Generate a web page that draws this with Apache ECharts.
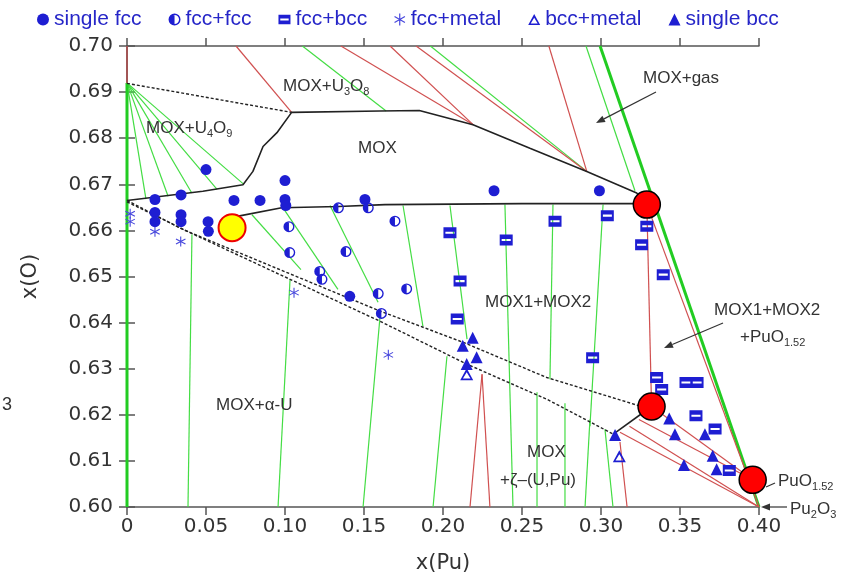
<!DOCTYPE html>
<html><head><meta charset="utf-8">
<script src="https://cdn.jsdelivr.net/npm/echarts@6/dist/echarts.min.js"></script>
<style>html,body{margin:0;padding:0;background:#fff}#c{width:867px;height:580px}</style>
</head><body><div id="c"></div>
<script>
// ---------- tick labels ----------
const xTickLabels = ['0','0.05','0.10','0.15','0.20','0.25','0.30','0.35','0.40'];
const yTickLabels = ['0.60','0.61','0.62','0.63','0.64','0.65','0.66','0.67','0.68','0.69','0.70'];

// ---------- data points [x(Pu), x(O)] ----------
const singleFcc = [[0.05,0.6732],[0.0177,0.6667],[0.0342,0.6677],[0.0677,0.6665],[0.0842,0.6665],
  [0.100,0.6708],[0.100,0.6667],[0.1005,0.6654],[0.1506,0.6667],[0.0177,0.6639],[0.0177,0.6619],
  [0.0342,0.6634],[0.0342,0.6619],[0.0513,0.6619],[0.0515,0.6598],[0.2323,0.6686],[0.299,0.6686],[0.141,0.6457]];
const fccFcc = [[0.1025,0.6608],[0.103,0.6552],[0.122,0.6511],[0.1234,0.6494],[0.1386,0.6554],
  [0.1338,0.6649],[0.1527,0.6649],[0.1696,0.662],[0.159,0.6463],[0.161,0.642],[0.177,0.6473]];
const fccBcc = [[0.2044,0.6595],[0.240,0.6579],[0.2709,0.662],[0.304,0.6632],[0.329,0.6609],
  [0.3257,0.6569],[0.3394,0.6504],[0.2108,0.649],[0.209,0.6408],[0.2947,0.6324],[0.3352,0.6281],
  [0.3384,0.6255],[0.3538,0.627],[0.3608,0.627],[0.3601,0.6198],[0.3722,0.6169],[0.3812,0.6079]];
const fccMetal = [[0.0177,0.6597],[0.034,0.6576],[0.1057,0.6465],[0.1654,0.633],[0.002,0.6636],[0.002,0.6619]];
const bccMetal = [[0.215,0.6288],[0.3116,0.611]];
const singleBcc = [[0.2188,0.6367],[0.2125,0.635],[0.2213,0.6325],[0.215,0.631],[0.3089,0.6156],
  [0.3432,0.6192],[0.3468,0.6158],[0.3658,0.6158],[0.3707,0.6111],[0.3525,0.6091],[0.3732,0.6082]];
const redPoints = [[0.329,0.6656],[0.332,0.6218],[0.396,0.6059]];
const yellowPoints = [[0.0665,0.6606]];

// ---------- phase boundaries & tie lines ----------
const boundarySolid = [
  [[0,0.6665],[0.048,0.6685],[0.0734,0.6699],[0.0797,0.6728],[0.0861,0.6782],[0.0949,0.6812],[0.1042,0.6856],
   [0.16,0.6859],[0.185,0.686],[0.219,0.6829],[0.255,0.6778],[0.291,0.6728],[0.3226,0.6681],[0.329,0.6656]],
  [[0.0665,0.6606],[0.0705,0.6631],[0.0979,0.6649],[0.1338,0.6652],[0.1633,0.6656],[0.25,0.6658],[0.3226,0.6658],[0.329,0.6656]],
  [[0.3078,0.6158],[0.332,0.6218]]
];
const boundaryDashed = [
  [[0,0.6665],[0.0354,0.6602],[0.1601,0.6425],[0.2129,0.6357],[0.2656,0.6281],[0.3247,0.6219],[0.332,0.6218]],
  [[0,0.6662],[0.0399,0.6595],[0.1601,0.6403],[0.215,0.631],[0.2656,0.6234],[0.3078,0.6158]],
  [[0,0.6919],[0.1042,0.6856]]
];
const greenTies = [
  [[0,0.692],[0.012,0.6668]],[[0,0.692],[0.026,0.6674]],[[0,0.692],[0.041,0.6681]],[[0,0.692],[0.057,0.6689]],[[0,0.692],[0.0736,0.6701]],
  [[0.111,0.70],[0.164,0.6859]],
  [[0.192,0.70],[0.291,0.6728]],
  [[0.2905,0.70],[0.3215,0.6686]],
  [[0.0791,0.6634],[0.1101,0.6515]],[[0.0981,0.6652],[0.1335,0.6472]],[[0.1285,0.6654],[0.1589,0.6444]],
  [[0.1747,0.6654],[0.1873,0.6392]],[[0.2044,0.6654],[0.2152,0.6364]],[[0.2392,0.6656],[0.2443,0.60]],
  [[0.2696,0.6656],[0.2677,0.6277]],[[0.3013,0.6656],[0.293,0.6175]],
  [[0.0411,0.6591],[0.0386,0.60]],[[0.1032,0.6494],[0.0956,0.60]],[[0.1601,0.6411],[0.1494,0.60]],
  [[0.2025,0.6327],[0.1937,0.60]],[[0.2595,0.6249],[0.2595,0.60]],[[0.2772,0.6225],[0.2772,0.60]],
  [[0.293,0.619],[0.2899,0.60]],[[0.3025,0.6169],[0.3076,0.60]]
];
const greenThick = [[[0,0.692],[0,0.60]],[[0.2994,0.70],[0.40,0.60]]];
const redTies = [
  [[0,0.70],[0,0.6919]],[[0.069,0.70],[0.1042,0.6856]],[[0.1354,0.70],[0.2192,0.6829]],[[0.1665,0.70],[0.2192,0.6829]],
  [[0.183,0.70],[0.291,0.6728]],[[0.267,0.70],[0.291,0.6728]],
  [[0.329,0.6656],[0.40,0.60]],[[0.329,0.6656],[0.332,0.6218]],[[0.332,0.6218],[0.396,0.6059]],
  [[0.312,0.6162],[0.40,0.60]],[[0.318,0.6175],[0.40,0.60]],[[0.324,0.619],[0.396,0.6059]],
  [[0.2247,0.6288],[0.2171,0.60]],[[0.2247,0.6288],[0.2297,0.60]],[[0.312,0.6141],[0.3165,0.60]]
];

// ---------- symbols ----------
const BLUE = '#1e1ed2';
const symHalf = 'path://M0,10A10,10 0 1,1 20,10A10,10 0 1,1 0,10Z M2.5,10A7.5,7.5 0 1,0 17.5,10A7.5,7.5 0 1,0 2.5,10Z M10,20A10,10 0 0,1 10,0Z';
const symBox = 'path://M0,0H20V16H0Z M3,6.5V9.5H17V6.5Z';
const symStar = 'path://M9,0H11V20H9Z M0.84,5.87L1.84,4.13L19.16,14.13L18.16,15.87Z M18.16,4.13L19.16,5.87L1.84,15.87L0.84,14.13Z';
const symTriOpen = 'path://M10,0L20,18L0,18Z M10,6L4.2,15.5L15.8,15.5Z';

function lines(segs, style, z) {
  return segs.map(s => ({type:'line', data:s, symbol:'none', silent:true, animation:false, z:z, lineStyle:style}));
}
function pts(name, data, symbol, size, color, z) {
  return {name:name, type:'scatter', data:data, symbol:symbol, symbolSize:size, z:z||5,
    itemStyle:{color:color||BLUE, opacity:1}};
}
const series = [].concat(
  lines(greenTies, {color:'#44dd44', width:1.2}, 2),
  lines(greenThick, {color:'#22cc22', width:3}, 2),
  lines(redTies, {color:'#d05050', width:1.2}, 2),
  lines(boundaryDashed, {color:'#222', width:1.4, type:[3,2]}, 3),
  lines(boundarySolid, {color:'#222', width:1.6}, 3),
  [
    pts('single fcc', singleFcc, 'circle', 11),
    pts('fcc+fcc', fccFcc, symHalf, 11),
    pts('fcc+bcc', fccBcc, symBox, [13,11]),
    pts('fcc+metal', fccMetal, symStar, 10, '#4848dd'),
    pts('bcc+metal', bccMetal, symTriOpen, [13,12]),
    pts('single bcc', singleBcc, 'triangle', 12),
    {type:'scatter', data:redPoints, symbol:'circle', symbolSize:27, silent:true,
     itemStyle:{color:'#ff0000', borderColor:'#000', borderWidth:1.5, opacity:1}, z:6},
    {type:'scatter', data:yellowPoints, symbol:'circle', symbolSize:27, silent:true,
     itemStyle:{color:'#ffff00', borderColor:'#ee0000', borderWidth:2, opacity:1}, z:6}
  ]
);

// ---------- annotations ----------
const FONT = 'Liberation Sans';
function rich(x, y, str, size, extra) {
  return Object.assign({type:'text', z:100, style:{
    x:x, y:y, text:str, align:'left', verticalAlign:'middle',
    rich:{
      m:{fontSize:size, lineHeight:size, fontFamily:FONT, fill:'#333', verticalAlign:'top'},
      s:{fontSize:Math.round(size*0.62), lineHeight:Math.round(size*0.62), fontFamily:FONT, fill:'#333', verticalAlign:'top', padding:[Math.round(size*0.5),0,0,0]}
    }
  }}, extra || {});
}
function arrow(x1, y1, x2, y2) {
  const dx = x2-x1, dy = y2-y1, L = Math.hypot(dx,dy), ux = dx/L, uy = dy/L;
  const bx = x2-9*ux, by = y2-9*uy, px = -uy*3.5, py = ux*3.5;
  return [
    {type:'line', z:100, shape:{x1:x1, y1:y1, x2:bx, y2:by}, style:{stroke:'#333', lineWidth:1.2}},
    {type:'polygon', z:100, shape:{points:[[x2,y2],[bx+px,by+py],[bx-px,by-py]]}, style:{fill:'#333'}}
  ];
}
const graphics = [
  {type:'rect', z:99, shape:{x:712, y:292, width:146, height:58}, style:{fill:'#fff'}},
  rich(283, 86, '{m|MOX+U}{s|3}{m|O}{s|8}', 17),
  rich(146, 128, '{m|MOX+U}{s|4}{m|O}{s|9}', 17),
  rich(358, 148, '{m|MOX}', 17),
  rich(643, 78, '{m|MOX+gas}', 17),
  rich(485, 302, '{m|MOX1+MOX2}', 17),
  rich(714, 310, '{m|MOX1+MOX2}', 17),
  rich(740, 337, '{m|+PuO}{s|1.52}', 17),
  rich(216, 405, '{m|MOX+α-U}', 17),
  rich(527, 452, '{m|MOX}', 17),
  rich(500, 480, '{m|+ζ–(U,Pu)}', 17),
  rich(778, 481, '{m|PuO}{s|1.52}', 17),
  rich(790, 509, '{m|Pu}{s|2}{m|O}{s|3}', 17),
  {type:'text', z:100, style:{x:2, y:405, text:'3', font:'18px ' + FONT, fill:'#333', verticalAlign:'middle'}},
  {type:'line', z:100, shape:{x1:766, y1:487, x2:775, y2:483}, style:{stroke:'#333', lineWidth:1.2}}
].concat(arrow(656,92,596,123), arrow(723,323,664,348), arrow(787,507,761,507));

const axisCommon = {
  axisLine:{show:true, lineStyle:{color:'#555', width:1.5}},
  axisTick:{show:true, length:8, lineStyle:{color:'#555', width:1.5}},
  splitLine:{show:false}
};
const option = {
  backgroundColor:'#fff',
  animation:false,
  grid:{left:127, right:108, top:46, bottom:73},
  legend:{
    data:['single fcc','fcc+fcc','fcc+bcc','fcc+metal','bcc+metal','single bcc'],
    left:32, top:4, itemWidth:12, itemHeight:12, itemGap:27,
    textStyle:{color:'#2626c8', fontSize:21, fontFamily:FONT}
  },
  xAxis:[
    Object.assign({type:'value', min:0, max:0.40, interval:0.05, position:'bottom',
      name:'x(Pu)', nameLocation:'middle', nameGap:46,
      nameTextStyle:{fontSize:21, fontFamily:'DejaVu Sans', color:'#333'},
      axisLabel:{margin:10, fontSize:20, fontFamily:'DejaVu Sans', color:'#333',
        formatter:v => xTickLabels[Math.round(v/0.05)]}}, axisCommon),
    Object.assign({type:'value', min:0, max:0.40, interval:0.05, position:'top', axisLabel:{show:false}}, axisCommon)
  ],
  yAxis:[
    Object.assign({type:'value', min:0.60, max:0.70, interval:0.01, position:'left',
      name:'x(O)', nameLocation:'middle', nameGap:86,
      nameTextStyle:{fontSize:21, fontFamily:'DejaVu Sans', color:'#333'},
      axisLabel:{margin:14, fontSize:20, fontFamily:'DejaVu Sans', color:'#333',
        formatter:v => yTickLabels[Math.round((v-0.6)/0.01)]}}, axisCommon),
    Object.assign({type:'value', min:0.60, max:0.70, interval:0.01, position:'right', axisLabel:{show:false}}, axisCommon)
  ],
  series:series,
  graphic:graphics
};
const chart = echarts.init(document.getElementById('c'), null, {renderer:'canvas'});
chart.setOption(option);
</script></body></html>
